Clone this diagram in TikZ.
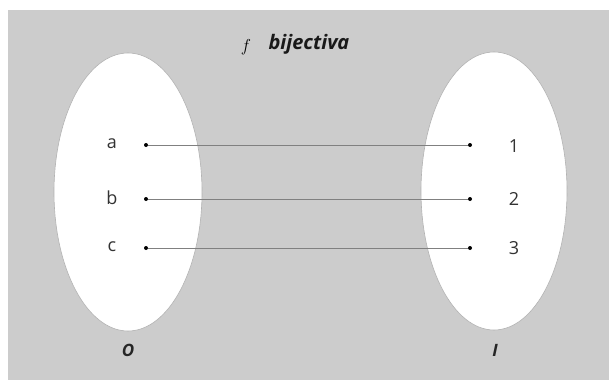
\documentclass[tikz,border=0pt]{standalone}
\usepackage{fontspec}
\setmainfont{Open Sans}
\usetikzlibrary{shapes.geometric}
\begin{document}
\begin{tikzpicture}[x=1pt,y=-1pt,
  setshape/.style={draw=gray!60,fill=white,line width=0.6pt},
  elt/.style={circle,fill=black,inner sep=0pt,minimum size=4pt},
  lbl/.style={font=\fontsize{18}{18}\selectfont,text=black!80},
  conn/.style={draw=gray,line width=0.6pt}]
\useasboundingbox (0,0) rectangle (609,380);
\fill[white] (0,0) rectangle (609,380);
\fill[black!20] (8,10) rectangle (609,380);
\node[setshape,ellipse,minimum width=148pt,minimum height=278pt,inner sep=0pt] (O) at (128,192) {};
\node[setshape,ellipse,minimum width=146pt,minimum height=278pt,inner sep=0pt] (I) at (494,191) {};
\node[font=\fontsize{19}{19}\selectfont] (f) at (246,47) {$f$};
\node[font=\fontsize{20}{20}\selectfont\bfseries\itshape,anchor=west,text=black!90] (t) at (265,44) {bijectiva};
\node[elt] (pa) at (146,145) {};
\node[elt] (pb) at (146,199) {};
\node[elt] (pc) at (146,248) {};
\node[elt] (p1) at (470,145) {};
\node[elt] (p2) at (470,199) {};
\node[elt] (p3) at (470,248) {};
\node[lbl] (la) at (112,144) {a};
\node[lbl] (lb) at (112,198) {b};
\node[lbl] (lc) at (112,247) {c};
\node[lbl] (l1) at (514,146) {1};
\node[lbl] (l2) at (514,199) {2};
\node[lbl] (l3) at (514,248) {3};
\draw[conn] (pa) -- (p1);
\draw[conn] (pb) -- (p2);
\draw[conn] (pc) -- (p3);
\node[font=\fontsize{17}{17}\selectfont\bfseries\itshape,text=black!85] (nO) at (128,350) {O};
\node[font=\fontsize{17}{17}\selectfont\bfseries\itshape,text=black!85] (nI) at (495,350) {I};
\end{tikzpicture}
\end{document}
